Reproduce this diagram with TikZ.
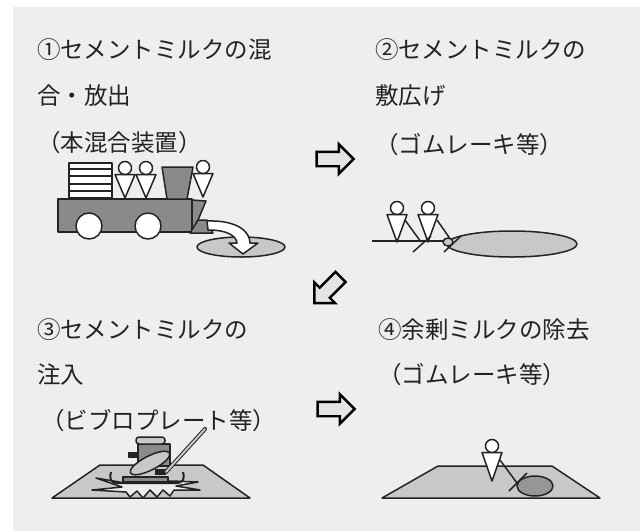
\documentclass[tikz,border=0pt]{standalone}
\usepackage{fontspec}
\newfontfamily\jpfont{Noto Sans CJK JP}
\usetikzlibrary{shapes.arrows}
\definecolor{panelbg}{RGB}{238,238,238}
\definecolor{inkgray}{RGB}{35,35,35}
\definecolor{bodygray}{RGB}{138,138,138}
\definecolor{milkgray}{RGB}{200,200,200}
\definecolor{poolgray}{RGB}{150,150,150}
\definecolor{arrowfill}{RGB}{228,228,228}
\tikzset{worker tip/.store in=\workertip, worker tip=30}

\begin{document}
\begin{tikzpicture}[x=1pt,y=-1pt,
  lbl/.style={anchor=west,inner sep=0pt,text=inkgray,font=\jpfont\fontsize{23.5}{23.5}\selectfont},
  outline/.style={draw=inkgray,line width=1.5pt,line join=round},
  nextarrow/.style={single arrow,draw=black,fill=arrowfill,line width=2.4pt,
                    inner xsep=0pt,inner ysep=6pt,single arrow head extend=7.5pt,minimum height=37pt},
  worker/.pic={
    \draw[outline,fill=white] (-10,6.5) -- (10,6.5) -- (0,\workertip) -- cycle;
    \draw[outline,fill=white] (0,0) circle (6.5);}
]
\fill[white] (0,0) rectangle (640,531);
\fill[panelbg] (13,7) rectangle (640,531);
\useasboundingbox (0,0) rectangle (640,531);

\node[lbl] (t1a) at (37,50) {①セメントミルクの混};
\node[lbl] (t1b) at (37,96) {合・放出};
\node[lbl] (t1c) at (37,143) {（本混合装置）};
\node[lbl] (t2a) at (375,50) {②セメントミルクの};
\node[lbl] (t2b) at (375,96) {敷広げ};
\node[lbl] (t2c) at (375,145) {（ゴムレーキ等）};
\node[lbl] (t3a) at (37,330) {③セメントミルクの};
\node[lbl] (t3b) at (37,375) {注入};
\node[lbl] (t3c) at (41,421) {（ビブロプレート等）};
\node[lbl] (t4a) at (378,330) {④余剰ミルクの除去};
\node[lbl] (t4b) at (378,375) {（ゴムレーキ等）};

\node[nextarrow] (next1) at (331.5,159) {};
\node[nextarrow,rotate=-135] (next2) at (330,287.5) {};
\node[nextarrow] (next3) at (332.5,409) {};

% mixing plant
\draw[outline,fill=milkgray] (241,247) ellipse [x radius=44, y radius=10];
\draw[outline,fill=bodygray] (58,199) rectangle (192,232);
\draw[outline,fill=white] (89,226) circle (13);
\draw[outline,fill=white] (148,226) circle (13);
\draw[outline,fill=white] (69,163) rectangle (112,198);
\foreach \y in {169,176,184,191}
  \draw[outline] (69,\y) -- (112,\y);
\draw[outline,fill=bodygray] (162,167) -- (193,167) -- (187,199) -- (167,199) -- cycle;
\pic at (125,168) {worker};
\pic at (146,168) {worker};
\pic at (203,167) {worker};
\draw[outline,fill=bodygray] (192,200) -- (206,201) -- (193,232) -- (192,232) -- cycle;
\draw[outline,fill=bodygray] (198,220) -- (207,220) -- (213,233) -- (190,233) -- cycle;
\draw[outline,fill=white] (207,221) .. controls (238,220) and (250,232) .. (250,243)
  -- (258,243) -- (243,254) -- (229,243) -- (237,243)
  .. controls (236,236) and (228,230) .. (208,230) -- cycle;

% spreading with rakes
\draw[outline] (372,241) -- (450,241);
\draw[outline,fill=milkgray] (512,244) ellipse [x radius=65, y radius=13];
\pic[worker tip=34] at (397,208) {worker};
\pic[worker tip=34] at (428,208) {worker};
\draw[outline] (405,220) -- (421,242);
\draw[outline] (413,252) -- (431,236);
\draw[outline] (437,220) -- (451,240);
\draw[outline,fill=milkgray] (448,242) ellipse [x radius=5, y radius=4];
\draw[outline] (444,252) -- (461,236);

% plate compactor
\draw[outline,fill=milkgray] (52,498) -- (250,498) -- (203,465) -- (100,465) -- cycle;
\draw[outline,fill=panelbg] (125,483) -- (96,478) -- (122,487) -- (92,490) -- (126,492)
  -- (130,497) -- (137,491) -- (143,498) -- (150,490) -- (157,497) -- (163,490)
  -- (170,496) -- (174,490) -- (200,490) -- (176,486) -- (198,482) -- (172,481) -- cycle;
\draw[outline,fill=bodygray] (123,477) rectangle (168,482);
\draw[outline,line width=2pt] (111,472) .. controls (109,480) and (111,483) .. (118,483)
  -- (176,483) .. controls (183,483) and (185,479) .. (183,472);
\draw[outline,fill=bodygray] (138,444) rectangle (170,466);
\draw[outline,fill=milkgray,rounded corners=3pt] (136,437) rectangle (165,444);
\fill[inkgray] (128,452) rectangle (137,458);
\draw[outline,fill=milkgray,rotate around={27:(150,463)}] (150,463) ellipse [x radius=22, y radius=7];
\fill[inkgray] (155,469) rectangle (166,475);
\draw[inkgray,line width=4pt,line cap=round] (166,472) -- (205,429);
\draw[milkgray,line width=2pt,line cap=round] (166,472) -- (205,429);

% removing surplus milk
\draw[outline,fill=milkgray] (382,498) -- (600,498) -- (552,466) -- (438,466) -- cycle;
\draw[outline,fill=poolgray] (535,486) ellipse [x radius=18, y radius=10];
\pic[worker tip=35] at (492,446) {worker};
\draw[outline] (500,460) -- (517,483);
\draw[outline] (509,491) -- (527,473);
\end{tikzpicture}
\end{document}
